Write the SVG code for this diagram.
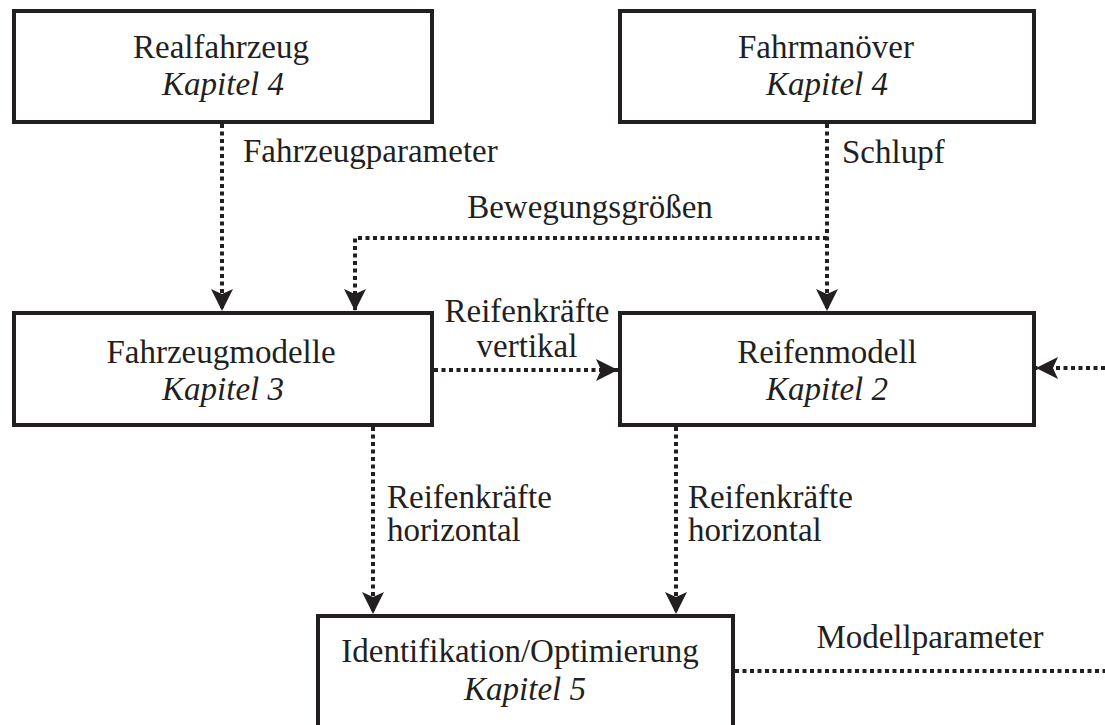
<svg xmlns="http://www.w3.org/2000/svg" width="1105" height="725" viewBox="0 0 1105 725">
<style>
.box{fill:#fff;stroke:#231f20;stroke-width:4}
.t{font-family:"Liberation Serif",serif;font-size:33px;fill:#231f20;text-anchor:middle}
.i{font-style:italic}
.l{font-family:"Liberation Serif",serif;font-size:33px;fill:#231f20}
.c{fill:none;stroke:#231f20;stroke-width:4;stroke-dasharray:4 3.5}
</style>
<defs>
<marker id="ah" markerUnits="userSpaceOnUse" markerWidth="24" markerHeight="24" refX="22" refY="11" orient="auto">
<path d="M0,0 L22,11 L0,22 L5,11 Z" fill="#231f20"/>
</marker>
</defs>
<rect width="1105" height="725" fill="#fff"/>
<g id="connectors">
<path class="c" d="M222,124 V311" marker-end="url(#ah)"/>
<path class="c" d="M827,124 V311" marker-end="url(#ah)"/>
<path class="c" d="M827,238 H355 V311" marker-end="url(#ah)"/>
<path class="c" d="M434,370 H618" marker-end="url(#ah)"/>
<path class="c" d="M1105,368 H1036" marker-end="url(#ah)"/>
<path class="c" d="M373,427 V614" marker-end="url(#ah)"/>
<path class="c" d="M676,427 V614" marker-end="url(#ah)"/>
<path class="c" d="M735,671 H1105"/>
<text class="l" x="243" y="162">Fahrzeugparameter</text>
<text class="l" x="842" y="163">Schlupf</text>
<text class="t" x="590" y="218">Bewegungsgrößen</text>
<text class="t" x="527" y="322">Reifenkräfte</text>
<text class="t" x="527" y="357">vertikal</text>
<text class="l" x="387" y="508">Reifenkräfte</text>
<text class="l" x="387" y="541">horizontal</text>
<text class="l" x="688" y="508">Reifenkräfte</text>
<text class="l" x="688" y="541">horizontal</text>
<text class="t" x="930" y="648">Modellparameter</text>
</g>
<g id="realfahrzeug">
<rect class="box" x="14" y="11" width="418" height="111"/>
<text class="t" x="221" y="58">Realfahrzeug</text>
<text class="t i" x="223" y="95">Kapitel 4</text>
</g>
<g id="fahrmanoever">
<rect class="box" x="620" y="11" width="414" height="111"/>
<text class="t" x="826" y="58">Fahrmanöver</text>
<text class="t i" x="827" y="95">Kapitel 4</text>
</g>
<g id="fahrzeugmodelle">
<rect class="box" x="14" y="313" width="418" height="112"/>
<text class="t" x="221" y="363">Fahrzeugmodelle</text>
<text class="t i" x="223" y="400">Kapitel 3</text>
</g>
<g id="reifenmodell">
<rect class="box" x="620" y="313" width="414" height="112"/>
<text class="t" x="827" y="363">Reifenmodell</text>
<text class="t i" x="827" y="400">Kapitel 2</text>
</g>
<g id="identifikation">
<rect class="box" x="318" y="616" width="415" height="120"/>
<text class="t" x="520" y="662">Identifikation/Optimierung</text>
<text class="t i" x="525" y="700">Kapitel 5</text>
</g>
</svg>
